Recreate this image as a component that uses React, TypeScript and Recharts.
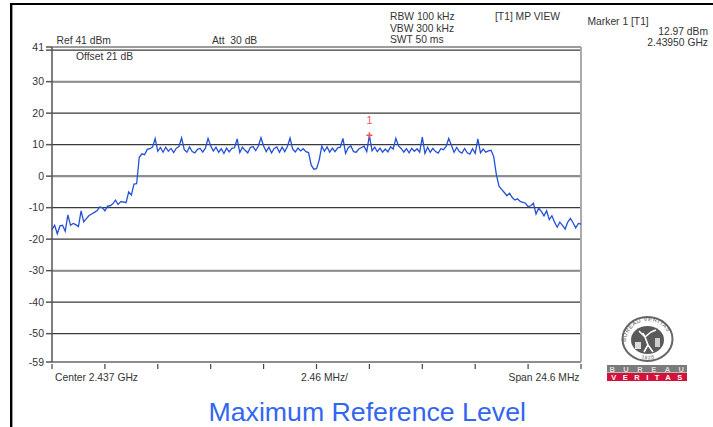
import { CartesianGrid, Line, LineChart, ReferenceDot, ReferenceLine, XAxis, YAxis } from "recharts";

// Trace levels in dBm, one every 0.123 MHz across the 24.6 MHz span
const traceLevels = [
  -17, -15.6, -18.3, -15.8, -15.6, -17.5, -12.3, -15.6, -15, -15.4,
  -16, -11, -14.5, -13.5, -12.5, -12, -11.5, -11, -9.8, -10,
  -11, -9.5, -9.4, -8.8, -7.6, -9, -8.1, -8.2, -8.4, -5,
  -6, -2.5, -2.4, 6, 7.1, 6.8, 8.5, 8.7, 9.2, 11.9,
  7.9, 9.1, 7.6, 9.2, 7.9, 8.8, 7.5, 8.9, 9.4, 12.2,
  8.4, 7.6, 9.3, 7.8, 7.4, 8.5, 8.8, 7.6, 8.9, 12,
  9.6, 8, 9.2, 7.6, 8.7, 7.2, 8.9, 7.7, 8.8, 9,
  11.8, 7.5, 9.2, 8.2, 7.4, 9.1, 9.4, 8.1, 9.5, 12.2,
  9.6, 7.8, 9.2, 7.4, 8.8, 9.3, 7.6, 9.2, 7.8, 9.4,
  12.1, 8.6, 7.7, 8.9, 8, 8.7, 7.8, 7.5, 3.5, 2.2,
  2.4, 5, 9.5, 7.9, 9.3, 7.6, 8.9, 7.8, 9, 9.2,
  12, 7.2, 9, 9.6, 7.8, 7.6, 8.6, 9.1, 9.5, 7.8,
  12.97, 8, 9.2, 7.8, 8.9, 7.6, 8.6, 7.7, 9.3, 8.6,
  12, 9.6, 8.8, 7.6, 8.7, 7.4, 8.8, 7.9, 8.7, 7.6,
  12.4, 7.2, 9.2, 7.6, 8.8, 7.8, 7.3, 8.7, 8.4, 9.4,
  12, 9.8, 7.6, 9.1, 7.8, 7.3, 8.8, 7.4, 7, 8.7,
  7.2, 11.8, 7.4, 8.6, 7.6, 8, 8.2, 6.2, 0.5, -3.2,
  -4.2, -5.2, -6.2, -5.4, -6.8, -7.6, -7.2, -8, -8.3, -8.6,
  -9.7, -9.4, -8.6, -12, -10.2, -11.2, -12.6, -11, -13.8, -12.6,
  -14.6, -16.2, -14.6, -15.6, -16.8, -14.6, -13.4, -14.8, -16.4, -15,
  -15.2,
];

const startMHz = 2424.7;
const stepMHz = 0.123;
const freqTicks = [2424.7, 2427.16, 2429.62, 2432.08, 2434.54, 2437, 2439.46, 2441.92, 2444.38, 2446.84, 2449.3];
const levelTicks = [41, 40, 30, 20, 10, 0, -10, -20, -30, -40, -50, -59];
const greyLevels = [30, 0, -30];

const markerFreq = 2439.46;
const markerLevel = 12.97;

const data = traceLevels.map((level, i) => ({ freq: startMHz + i * stepMHz, level }));

const FONT = "'Liberation Sans', Arial, sans-serif";
const TEXT = "#333";

const FreqTick = ({ x, y }: { x: number; y: number }) => (
  <line x1={x} x2={x} y1={y} y2={y + 5} stroke="#444" strokeWidth={1.2} />
);

const Marker = ({ cx, cy }: { cx: number; cy: number }) => (
  <g>
    <path d={`M${cx - 3} ${cy}H${cx + 3}M${cx} ${cy - 3}V${cy + 3}`} stroke="#f0505a" strokeWidth={1.5} />
    <text x={cx} y={cy - 11} fontFamily={FONT} fontSize={10.5} fill="#f0505a" textAnchor="middle">
      1
    </text>
  </g>
);

const Label = ({ x, y, anchor, children }: { x: number; y: number; anchor?: "end"; children: string }) => (
  <text x={x} y={y} textAnchor={anchor} fontFamily={FONT} fontSize={10.3} fill={TEXT} style={{ whiteSpace: "pre" }}>
    {children}
  </text>
);

const Logo = () => (
  <g fontFamily={FONT}>
    <defs>
      <path id="ringTop" d="M626 342A22 21 0 0 1 670 342" />
      <path id="ringBottom" d="M632 352A20 18 0 0 0 664 352" />
    </defs>
    <ellipse cx={647.5} cy={339} rx={25} ry={22} fill="#fff" stroke="#666" strokeWidth={2} />
    <ellipse cx={647.5} cy={340} rx={16.5} ry={14} fill="#5a5a5a" />
    <text fontSize={5.8} fill="#555" letterSpacing={0.5}>
      <textPath href="#ringTop" startOffset="0%">
        BUREAU VERITAS
      </textPath>
    </text>
    <text fontSize={5} fill="#555" textAnchor="middle" letterSpacing={0.6}>
      <textPath href="#ringBottom" startOffset="50%">
        1828
      </textPath>
    </text>
    <path
      d="M639 331L645 337L651 332M645 337L648 345L644 352M648 345L653 352M651 332L656 330M645 337L643 333"
      stroke="#fff"
      strokeWidth={1.6}
      fill="none"
    />
    <rect x={635} y={342} width={6} height={7} fill="#ddd" />
    <rect x={655} y={338} width={5} height={9} fill="#ccc" />
    <rect x={607} y={365} width={80} height={7.5} fill="#7b7b7b" />
    <rect x={607} y={373} width={80} height={8} fill="#d3123c" />
    <text x={651} y={371.5} fontSize={7.5} fontWeight="bold" fill="#ddd" textAnchor="middle" letterSpacing={8.5}>
      BUREAU
    </text>
    <text x={650} y={380} fontSize={7.5} fontWeight="bold" fill="#fff" textAnchor="middle" letterSpacing={6.5}>
      VERITAS
    </text>
  </g>
);

export default function App() {
  return (
    <div style={{ position: "absolute", left: 0, top: 0, width: 713, height: 427, overflow: "hidden", background: "#fff" }}>
      <LineChart
        width={713}
        height={427}
        data={data}
        margin={{ top: 47, right: 132, bottom: 55, left: 12 }}
      >
        <CartesianGrid vertical={false} stroke="#3a3a3a" strokeWidth={1.2} />
        <XAxis
          dataKey="freq"
          type="number"
          domain={[2424.7, 2449.3]}
          ticks={freqTicks}
          height={10}
          stroke="#888"
          tickLine={false}
          tickSize={0}
          tickMargin={2}
          tick={FreqTick as any}
          interval={0}
        />
        <YAxis
          type="number"
          domain={[-59, 41]}
          ticks={levelTicks}
          width={40}
          interval={0}
          stroke="#555"
          strokeWidth={1.5}
          tickSize={6}
          tickMargin={2}
          tick={{ fontFamily: FONT, fontSize: 10.5, fill: TEXT }}
          tickFormatter={(v: number) => (v === 40 ? "" : `${v}`)}
        />
        {greyLevels.map((level) => (
          <ReferenceLine key={level} y={level} stroke="#8c8c8c" strokeWidth={2} />
        ))}
        <ReferenceLine y={-59} stroke="#888" strokeWidth={1.2} />
        <ReferenceLine x={2449.3} stroke="#aaa" strokeWidth={2} />
        <Line
          dataKey="level"
          stroke="#2450d8"
          strokeWidth={1.3}
          dot={false}
          type="linear"
          isAnimationActive={false}
        />
        <ReferenceDot x={markerFreq} y={markerLevel} shape={Marker as any} />
      </LineChart>
      <svg width={713} height={427} style={{ position: "absolute", left: 0, top: 0, pointerEvents: "none" }}>
        <rect x={10} y={3} width={703} height={2} fill="#000" />
        <rect x={10} y={3} width={2.4} height={424} fill="#000" />
        <Label x={56.5} y={44}>Ref 41 dBm</Label>
        <Label x={212} y={44}>Att  30 dB</Label>
        <Label x={76} y={60}>Offset 21 dB</Label>
        <Label x={390} y={20}>RBW 100 kHz</Label>
        <Label x={390} y={32}>VBW 300 kHz</Label>
        <Label x={390} y={43}>SWT 50 ms</Label>
        <Label x={495} y={20}>[T1] MP VIEW</Label>
        <Label x={587.5} y={24.5}>Marker 1 [T1]</Label>
        <Label x={708} y={35} anchor="end">12.97 dBm</Label>
        <Label x={708} y={46} anchor="end">2.43950 GHz</Label>
        <Label x={55} y={381}>Center 2.437 GHz</Label>
        <Label x={301} y={381}>2.46 MHz/</Label>
        <Label x={579.5} y={381} anchor="end">Span 24.6 MHz</Label>
        <text x={208.5} y={421} fontFamily={FONT} fontSize={26.7} fill="#3366f0">
          Maximum Reference Level
        </text>
        <Logo />
      </svg>
    </div>
  );
}
